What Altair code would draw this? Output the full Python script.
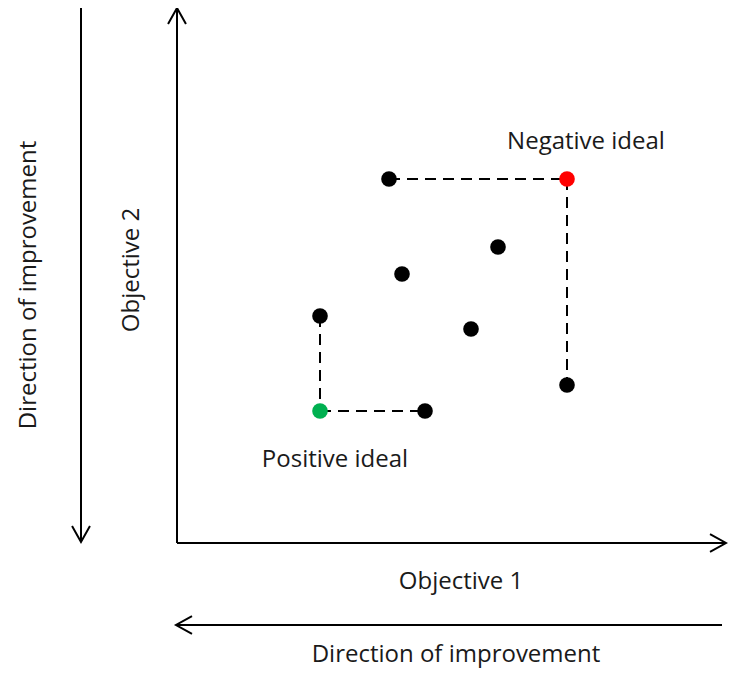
import altair as alt
import pandas as pd

# Alternatives: (Objective 1, Objective 2) values and role
obj1 = [212, 390, 321, 225, 143, 294, 390, 143, 248]
obj2 = [364, 364, 296, 269, 227, 214, 158, 132, 132]
role = ["other", "negative", "other", "other", "other", "other", "other", "positive", "other"]

# Dashed connectors between alternatives and ideals
dash_x1 = [212, 390, 143, 143]
dash_y1 = [364, 364, 227, 132]
dash_x2 = [390, 390, 143, 248]
dash_y2 = [364, 158, 132, 132]

# Axis arrows (start -> tip): Objective 2, Objective 1, left direction, bottom direction
arrow_name = ["obj2", "obj1", "dir_left", "dir_bottom"]
arrow_x1 = [0, 0, -96, 545]
arrow_y1 = [0, 0, 535, -82]
arrow_x2 = [0, 549, -96, -1]
arrow_y2 = [535, 0, 1, -82]
arrow_heading = [0, 90, 180, 270]

# Labels
label_text = ["Negative ideal", "Positive ideal", "Objective 1",
              "Direction of improvement", "Objective 2", "Direction of improvement"]
label_x = [409, 158, 284, 279, -45, -148]
label_y = [401, 83, -39, -112, 273, 258]
label_angle = [0, 0, 0, 0, 270, 270]

FONT = "Open Sans"

xs = alt.Scale(domain=[-169, 551], nice=False, zero=False)
ys = alt.Scale(domain=[-126, 535], nice=False, zero=False)

pts = pd.DataFrame({"x": obj1, "y": obj2, "role": role})
dashes = pd.DataFrame({"x": dash_x1, "y": dash_y1, "x2": dash_x2, "y2": dash_y2})
arrows = pd.DataFrame({"name": arrow_name, "x": arrow_x1, "y": arrow_y1,
                       "x2": arrow_x2, "y2": arrow_y2, "heading": arrow_heading})
labels = pd.DataFrame({"text": label_text, "x": label_x, "y": label_y, "a": label_angle})

X = lambda f="x": alt.X(f"{f}:Q", scale=xs, axis=None)
Y = lambda f="y": alt.Y(f"{f}:Q", scale=ys, axis=None)

arrow_lines = alt.Chart(arrows).mark_rule(color="black", strokeWidth=2).encode(
    x=X(), y=Y(), x2="x2:Q", y2="y2:Q"
)

arrow_heads = alt.Chart(arrows).mark_point(
    shape="M -0.56 1 L 0 0 L 0.56 1", filled=False, size=1024,
    strokeWidth=2, color="black", opacity=1
).encode(
    x=X("x2"), y=Y("y2"), angle=alt.Angle("heading:Q", scale=None)
)

dash_lines = alt.Chart(dashes).mark_rule(
    color="black", strokeWidth=2, strokeDash=[11, 7]
).encode(x=X(), y=Y(), x2="x2:Q", y2="y2:Q")

dots = alt.Chart(pts).mark_circle(size=245, opacity=1).encode(
    x=X(), y=Y(),
    color=alt.Color("role:N", scale=alt.Scale(
        domain=["other", "negative", "positive"],
        range=["#000000", "#ff0000", "#00b050"]), legend=None)
)

texts = alt.Chart(labels).mark_text(
    font=FONT, fontSize=24, color="#1a1a1a", align="center", baseline="middle"
).encode(
    x=X(), y=Y(), text="text:N", angle=alt.Angle("a:Q", scale=None)
)

chart = alt.layer(arrow_lines, arrow_heads, dash_lines, dots, texts).properties(
    width=720, height=661, padding=0,
    autosize=alt.AutoSizeParams(type="none")
).configure_view(strokeWidth=0)

chart.save("out.html", embed_options={"renderer": "svg", "actions": False})
